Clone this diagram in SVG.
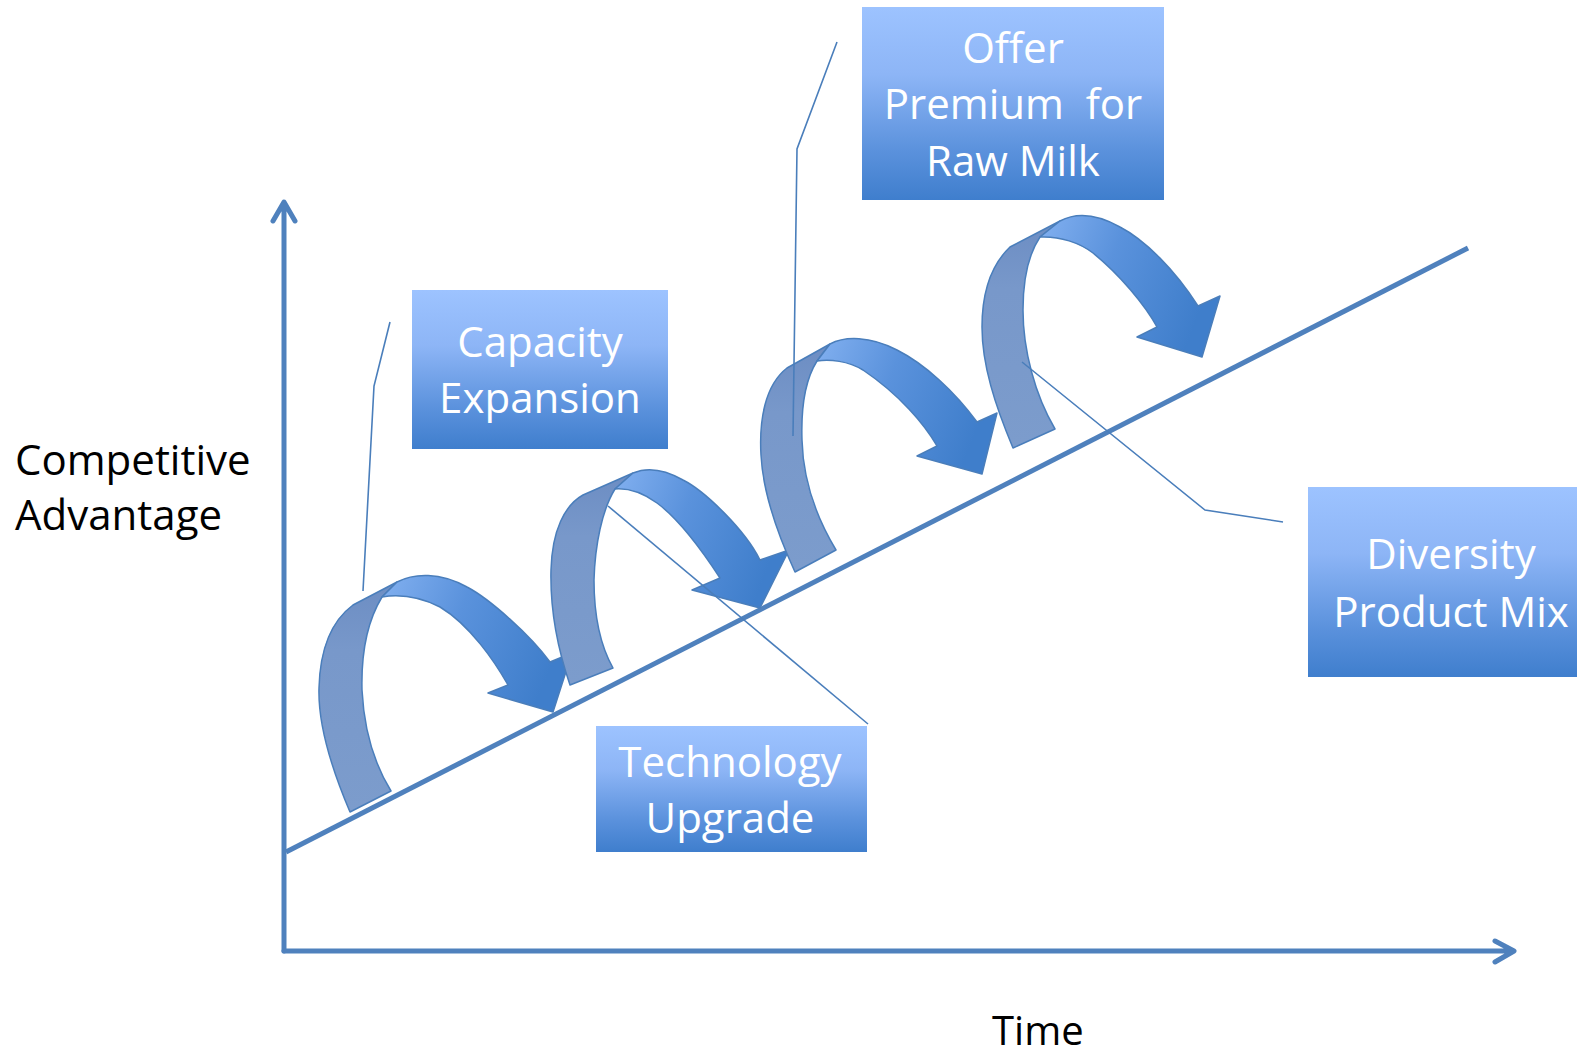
<svg xmlns="http://www.w3.org/2000/svg" width="1577" height="1054" viewBox="0 0 1577 1054">
<defs>
<linearGradient id="boxG" x1="0" y1="0" x2="0" y2="1">
<stop offset="0" stop-color="#9DC3FF"/>
<stop offset="0.35" stop-color="#8DB5F6"/>
<stop offset="0.75" stop-color="#5A91DC"/>
<stop offset="1" stop-color="#3F7ECD"/>
</linearGradient>
<linearGradient id="frontG" x1="0" y1="0" x2="1" y2="0.3">
<stop offset="0" stop-color="#82B0F0"/>
<stop offset="0.45" stop-color="#5A92DC"/>
<stop offset="1" stop-color="#3F7ECB"/>
</linearGradient>
<linearGradient id="backG" x1="0" y1="0" x2="0" y2="1">
<stop offset="0" stop-color="#6C8DC3"/>
<stop offset="0.3" stop-color="#7898CA"/>
<stop offset="1" stop-color="#7C9CCC"/>
</linearGradient>
<style>
.axis{fill:none;stroke:#4F81BD;stroke-width:5;stroke-linecap:round;stroke-linejoin:round}
.trend{fill:none;stroke:#4F81BD;stroke-width:5}
.lead{fill:none;stroke:#4A7EBB;stroke-width:1.6}
.back{fill:url(#backG);stroke:#4A7EBB;stroke-width:1.5;stroke-linejoin:round}
.front{fill:url(#frontG);stroke:#4A7EBB;stroke-width:1.5;stroke-linejoin:round}
.box{fill:url(#boxG)}
.bt{font-family:"Open Sans","Liberation Sans",sans-serif;font-size:42px;fill:#FFFFFF;text-anchor:middle}
.lt{font-family:"Open Sans","Liberation Sans",sans-serif;font-size:42px;fill:#000000}
</style>
</defs>
<rect width="1577" height="1054" fill="#FFFFFF"/>

<g id="axes">
<path class="axis" d="M284,951 L284,203 M273,221 L284,202 L295,221"/>
<path class="axis" d="M284,951 L1513,951 M1495,941 L1514,951 L1495,962"/>
</g>
<g id="trend-line">
<path class="trend" d="M286,852 L1468,248"/>
</g>

<g id="arrow1">
<path class="back" d="M350,812 C330,765 318,720 319,688 C320,650 330,622 353,605 L397,582 L382,597 C368,620 361,650 362,690 C364,730 375,765 391,791 Z"/>
<path class="front" d="M397,582 C414,573 440,572 467,587 C490,599 530,635 550,662 L572,653 L553,712 L488,693 L508,685 C495,662 470,625 440,607 C420,597 400,594 382,597 Z"/>
</g>
<g id="arrow2">
<path class="back" d="M570,685 C558,650 550,610 551,570 C552,530 565,505 583,495 L633,473 L615,489 C602,510 595,545 594,580 C594,615 600,645 613,668 Z"/>
<path class="front" d="M633,473 C645,468 662,468 683,480 C705,491 745,530 760,560 L789,550 L760,608 L692,590 L720,578 C705,555 680,520 657,503 C643,493 628,488 615,489 Z"/>
</g>
<g id="arrow3">
<path class="back" d="M795,572 C778,535 763,495 761,455 C759,420 765,385 787,368 L830,344 L817,361 C805,380 801,410 802,440 C803,480 815,515 836,550 Z"/>
<path class="front" d="M830,344 C845,336 870,336 897,350 C925,364 955,392 977,422 L997,413 L982,474 L917,456 L937,446 C925,425 900,395 863,370 C848,361 830,359 817,361 Z"/>
</g>
<g id="arrow4">
<path class="back" d="M1013,448 C995,405 982,365 982,327 C982,298 988,268 1010,247 L1060,221 L1040,237 C1028,255 1023,280 1023,310 C1023,350 1035,395 1055,429 Z"/>
<path class="front" d="M1060,221 C1075,213 1095,213 1120,227 C1145,240 1175,270 1198,306 L1220,296 L1202,357 L1137,337 L1157,327 C1145,305 1120,275 1093,253 C1080,243 1060,236 1040,237 Z"/>
</g>

<g id="connectors">
<path class="lead" d="M390,322 L374,386 L363,591"/>
<path class="lead" d="M837,42 L797,149 L793,436"/>
<path class="lead" d="M608,506 L868,724"/>
<path class="lead" d="M1022,362 L1205,510 L1283,522"/>
</g>

<g id="capacity-expansion">
<rect class="box" x="412" y="290" width="256" height="159"/>
<text class="bt" x="540" y="357">Capacity</text>
<text class="bt" x="540" y="413">Expansion</text>
</g>
<g id="offer-premium">
<rect class="box" x="862" y="7" width="302" height="193"/>
<text class="bt" x="1013" y="63">Offer</text>
<text class="bt" x="1013" y="119" xml:space="preserve">Premium  for</text>
<text class="bt" x="1013" y="176">Raw Milk</text>
</g>
<g id="technology-upgrade">
<rect class="box" x="596" y="726" width="271" height="126"/>
<text class="bt" x="730" y="777">Technology</text>
<text class="bt" x="730" y="833">Upgrade</text>
</g>
<g id="diversity-product-mix">
<rect class="box" x="1308" y="487" width="286" height="190"/>
<text class="bt" x="1451" y="569">Diversity</text>
<text class="bt" x="1451" y="627">Product Mix</text>
</g>
<g id="y-label">
<text class="lt" x="15" y="475">Competitive</text>
<text class="lt" x="15" y="530">Advantage</text>
</g>
<g id="x-label">
<text class="lt" x="992" y="1045" style="font-size:40px">Time</text>
</g>
</svg>
